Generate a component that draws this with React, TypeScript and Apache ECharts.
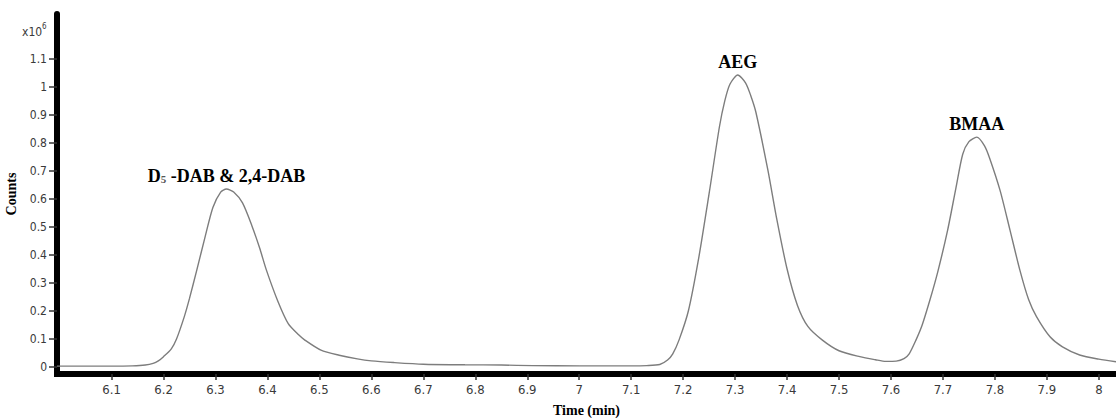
import React, { useEffect, useRef } from "react";
import * as echarts from "echarts";

// Retention time (min)
const timeValues = [
  5.995, 6.05, 6.1, 6.14, 6.165, 6.18, 6.19, 6.2, 6.215, 6.225, 6.24, 6.25, 6.264, 6.28, 6.295, 6.31,
  6.321, 6.335, 6.352, 6.37, 6.385, 6.398, 6.42, 6.44, 6.46, 6.472, 6.503, 6.538, 6.573, 6.6, 6.643,
  6.7, 6.78, 6.85, 6.91, 7.0, 7.1, 7.13, 7.155, 7.17, 7.18, 7.192, 7.21, 7.23, 7.25, 7.27, 7.28, 7.29,
  7.305, 7.32, 7.33, 7.34, 7.363, 7.38, 7.4, 7.42, 7.44, 7.468, 7.5, 7.54, 7.57, 7.59, 7.61, 7.625,
  7.635, 7.648, 7.66, 7.675, 7.69, 7.709, 7.725, 7.738, 7.75, 7.765, 7.78, 7.79, 7.81, 7.829, 7.848,
  7.865, 7.88, 7.906, 7.93, 7.963, 8.0, 8.033,
];
// Counts (x10^6)
const countValues = [
  0.003, 0.003, 0.003, 0.004, 0.007, 0.013, 0.022, 0.037, 0.065, 0.1, 0.18, 0.245, 0.346, 0.465, 0.57, 0.625,
  0.636, 0.625, 0.586, 0.505, 0.425, 0.346, 0.235, 0.155, 0.115, 0.096, 0.06, 0.042, 0.029, 0.022, 0.016,
  0.01, 0.008, 0.007, 0.005, 0.004, 0.004, 0.005, 0.009, 0.025, 0.047, 0.096, 0.2, 0.39, 0.62, 0.86, 0.95, 1.01,
  1.043, 1.015, 0.97, 0.91, 0.704, 0.53, 0.35, 0.22, 0.145, 0.096, 0.058, 0.037, 0.026, 0.02, 0.021, 0.03,
  0.047, 0.096, 0.15, 0.24, 0.34, 0.489, 0.64, 0.76, 0.805, 0.821, 0.79, 0.745, 0.63, 0.489, 0.346,
  0.24, 0.18, 0.108, 0.072, 0.043, 0.028, 0.019,
];

const peakNames = ["D{sub|5} -DAB & 2,4-DAB", "AEG", "BMAA"];
const peakTimes = [6.321, 7.305, 7.765];
const peakCounts = [0.636, 1.043, 0.821];

const xTicks = [6.1, 6.2, 6.3, 6.4, 6.5, 6.6, 6.7, 6.8, 6.9, 7.0, 7.1, 7.2, 7.3, 7.4, 7.5, 7.6, 7.7, 7.8, 7.9, 8.0];
const yTicks = [0, 0.1, 0.2, 0.3, 0.4, 0.5, 0.6, 0.7, 0.8, 0.9, 1.0, 1.1];

const X_MIN = 5.995;
const X_MAX = 8.033;
const Y_MIN = -0.025;
const Y_MAX = 1.261;

const narrow = '"Liberation Sans Narrow", "DejaVu Sans Condensed", "Liberation Sans", sans-serif';
const serif = '"Liberation Serif", "DejaVu Serif", serif';

export default function App() {
  const ref = useRef<HTMLDivElement>(null);

  useEffect(() => {
    document.body.style.margin = "0";
    if (!ref.current) return;
    const chart = echarts.init(ref.current, null, { renderer: "svg" });
    const data = timeValues.map((t, i) => [t, countValues[i]]);
    const fmt = (v: number) => String(+Number(v).toFixed(1));

    chart.setOption({
      animation: false,
      backgroundColor: "#ffffff",
      grid: { left: 57, right: 0, top: 14, bottom: 44, containLabel: false, outerBoundsMode: "none" },
      xAxis: {
        type: "value",
        min: X_MIN,
        max: X_MAX,
        name: "Time (min)",
        nameLocation: "middle",
        nameGap: 29,
        nameTextStyle: { fontFamily: serif, fontWeight: "bold", fontSize: 14, color: "#000" },
        axisLine: { show: true, onZero: false, lineStyle: { color: "#000", width: 6, cap: "square" } },
        axisTick: { show: true, customValues: xTicks, length: 6, lineStyle: { color: "#333", width: 1.5 } },
        axisLabel: {
          show: true,
          customValues: xTicks,
          formatter: fmt,
          margin: 9,
          fontFamily: narrow,
          fontSize: 13,
          color: "#3a3a3a",
        },
        splitLine: { show: false },
      },
      yAxis: {
        type: "value",
        min: Y_MIN,
        max: Y_MAX,
        name: "Counts",
        nameLocation: "middle",
        nameGap: 35,
        nameRotate: 90,
        nameTextStyle: { fontFamily: serif, fontWeight: "bold", fontSize: 14, color: "#000" },
        axisLine: { show: true, onZero: false, lineStyle: { color: "#000", width: 6 } },
        axisTick: { show: true, customValues: yTicks, length: 8, lineStyle: { color: "#333", width: 1.5 } },
        axisLabel: {
          show: true,
          customValues: yTicks,
          formatter: fmt,
          margin: 10,
          fontFamily: narrow,
          fontSize: 12,
          color: "#3a3a3a",
        },
        splitLine: { show: false },
      },
      graphic: [
        {
          type: "text",
          left: 22,
          top: 26,
          style: { text: "x10", fontFamily: narrow, fontSize: 12, fill: "#3a3a3a" },
        },
        {
          type: "text",
          left: 42,
          top: 22,
          style: { text: "6", fontFamily: narrow, fontSize: 8, fill: "#3a3a3a" },
        },
      ],
      series: [
        {
          type: "line",
          data,
          showSymbol: false,
          smooth: 0.25,
          lineStyle: { color: "#7d7d7d", width: 1.4 },
          markPoint: {
            symbol: "circle",
            symbolSize: 0,
            label: {
              show: true,
              position: "top",
              distance: 4,
              formatter: (p: any) => p.name,
              fontFamily: serif,
              fontWeight: "bold",
              fontSize: 18,
              color: "#000",
              rich: {
                sub: { fontFamily: serif, fontSize: 11, color: "#555", padding: [6, 0, 0, 0] },
              },
            },
            data: peakNames.map((n, i) => ({ name: n, coord: [peakTimes[i], peakCounts[i]] })),
          },
        },
      ],
    });
    return () => chart.dispose();
  }, []);

  return <div ref={ref} style={{ position: "fixed", left: 0, top: 0, width: 1116, height: 418 }} />;
}
